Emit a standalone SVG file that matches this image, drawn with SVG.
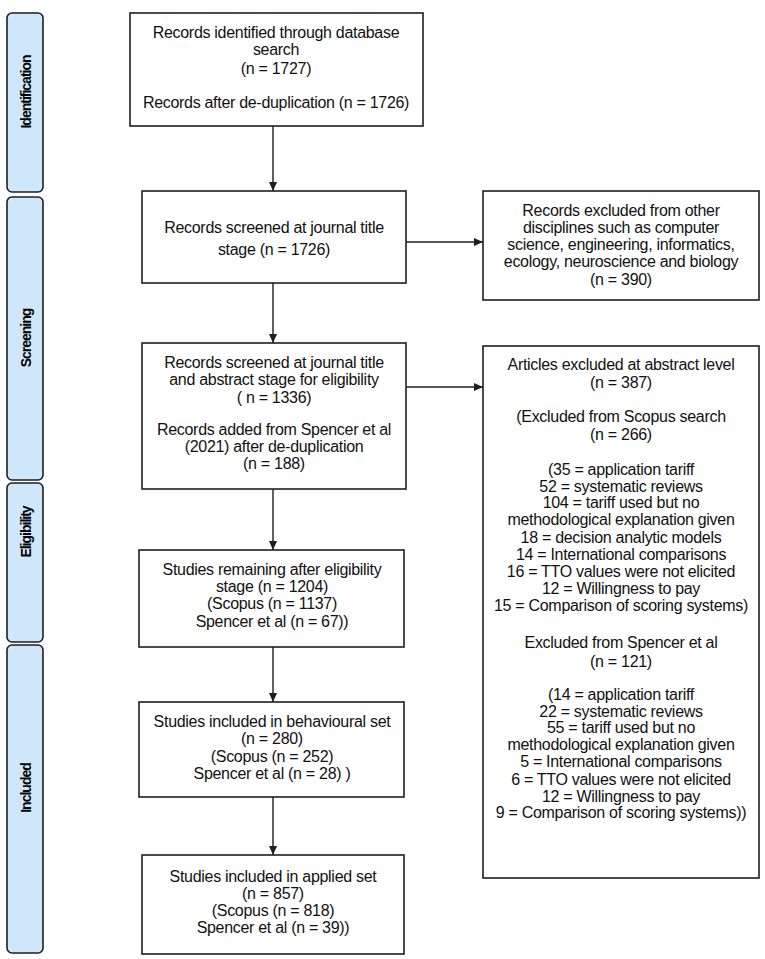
<svg xmlns="http://www.w3.org/2000/svg" width="765" height="959" viewBox="0 0 765 959">
<defs>
<style>
.bar{fill:#cfe7fa;stroke:#1e1e1e;stroke-width:1.6}
.box{fill:#ffffff;stroke:#1e1e1e;stroke-width:1.6}
.lbl{font-family:"Liberation Sans",Arial,sans-serif;font-weight:bold;font-size:14px;letter-spacing:-1px;fill:#000;text-anchor:middle;dominant-baseline:central}
.t{font-family:"Liberation Sans",Arial,sans-serif;font-size:16px;fill:#111;text-anchor:middle;letter-spacing:-0.3px}
.con{stroke:#1e1e1e;stroke-width:1.4;fill:none}
</style>
<marker id="ah" markerWidth="10" markerHeight="8" refX="9" refY="4" orient="auto" markerUnits="userSpaceOnUse">
<path d="M0,0 L9,4 L0,8 Z" fill="#1e1e1e"/>
</marker>
</defs>
<rect width="765" height="959" fill="#ffffff"/>

<g id="phase-identification">
<rect class="bar" x="7" y="13" width="36" height="179" rx="5"/>
<text class="lbl" transform="translate(25.5,92) rotate(-90)">Identification</text>
</g>
<g id="phase-screening">
<rect class="bar" x="7" y="197" width="36" height="283" rx="5"/>
<text class="lbl" transform="translate(25.5,338) rotate(-90)">Screening</text>
</g>
<g id="phase-eligibility">
<rect class="bar" x="7" y="483" width="36" height="159" rx="5"/>
<text class="lbl" transform="translate(25.5,532) rotate(-90)">Eligibility</text>
</g>
<g id="phase-included">
<rect class="bar" x="7" y="645" width="36" height="308" rx="5"/>
<text class="lbl" transform="translate(25.5,788) rotate(-90)">Included</text>
</g>

<g id="connectors">
<line class="con" x1="273" y1="126" x2="273" y2="191" marker-end="url(#ah)"/>
<line class="con" x1="273" y1="283" x2="273" y2="343" marker-end="url(#ah)"/>
<line class="con" x1="273" y1="489" x2="273" y2="550" marker-end="url(#ah)"/>
<line class="con" x1="273" y1="647" x2="273" y2="702" marker-end="url(#ah)"/>
<line class="con" x1="273" y1="797" x2="273" y2="855" marker-end="url(#ah)"/>
<line class="con" x1="406" y1="242" x2="483" y2="242" marker-end="url(#ah)"/>
<line class="con" x1="406" y1="387" x2="483" y2="387" marker-end="url(#ah)"/>
</g>

<g id="n1">
<rect class="box" x="130" y="13" width="293" height="113"/>
<text class="t" x="276" y="38">Records identified through database</text>
<text class="t" x="276" y="55">search</text>
<text class="t" x="276" y="74">(n = 1727)</text>
<text class="t" x="276" y="108">Records after de-duplication (n = 1726)</text>
</g>

<g id="n2">
<rect class="box" x="142" y="191" width="264" height="92"/>
<text class="t" x="274" y="233">Records screened at journal title</text>
<text class="t" x="274" y="255">stage (n = 1726)</text>
</g>

<g id="n3">
<rect class="box" x="483" y="191" width="276" height="109"/>
<text class="t" x="621" y="216">Records excluded from other</text>
<text class="t" x="621" y="233">disciplines  such as computer</text>
<text class="t" x="621" y="250">science, engineering, informatics,</text>
<text class="t" x="621" y="267">ecology, neuroscience and biology</text>
<text class="t" x="621" y="285">(n = 390)</text>
</g>

<g id="n4">
<rect class="box" x="142" y="343" width="264" height="146"/>
<text class="t" x="274" y="368">Records screened at journal title</text>
<text class="t" x="274" y="385">and abstract stage for eligibility</text>
<text class="t" x="274" y="403">( n = 1336)</text>
<text class="t" x="274" y="435">Records added from Spencer et al</text>
<text class="t" x="274" y="452">(2021) after de-duplication</text>
<text class="t" x="274" y="469">(n = 188)</text>
</g>

<g id="n5">
<rect class="box" x="483" y="346" width="276" height="532"/>
<text class="t" x="621" y="370">Articles excluded at abstract level</text>
<text class="t" x="621" y="388">(n = 387)</text>
<text class="t" x="621" y="422">(Excluded from Scopus search</text>
<text class="t" x="621" y="440">(n  = 266)</text>
<text class="t" x="621" y="475">(35 = application tariff</text>
<text class="t" x="621" y="492">52 = systematic reviews</text>
<text class="t" x="621" y="508">104 = tariff  used but no</text>
<text class="t" x="621" y="525">methodological explanation given</text>
<text class="t" x="621" y="543">18 = decision analytic models</text>
<text class="t" x="621" y="560">14 = International comparisons</text>
<text class="t" x="621" y="577">16 = TTO values were not elicited</text>
<text class="t" x="621" y="594">12 = Willingness to pay</text>
<text class="t" x="621" y="611">15 = Comparison of scoring systems)</text>
<text class="t" x="621" y="648">Excluded from Spencer et al</text>
<text class="t" x="621" y="667">(n = 121)</text>
<text class="t" x="621" y="700">(14 = application tariff</text>
<text class="t" x="621" y="717">22 = systematic reviews</text>
<text class="t" x="621" y="733">55 = tariff  used but no</text>
<text class="t" x="621" y="750">methodological explanation given</text>
<text class="t" x="621" y="767">5 = International comparisons</text>
<text class="t" x="621" y="785">6 = TTO values were not elicited</text>
<text class="t" x="621" y="802">12 = Willingness to pay</text>
<text class="t" x="621" y="818">9 = Comparison of scoring systems))</text>
</g>

<g id="n6">
<rect class="box" x="139" y="550" width="265" height="97"/>
<text class="t" x="272" y="575">Studies remaining after eligibility</text>
<text class="t" x="272" y="592">stage (n = 1204)</text>
<text class="t" x="272" y="609">(Scopus (n = 1137)</text>
<text class="t" x="272" y="627">Spencer et al (n = 67))</text>
</g>

<g id="n7">
<rect class="box" x="139" y="702" width="265" height="95"/>
<text class="t" x="272" y="727">Studies included in behavioural set</text>
<text class="t" x="272" y="744">(n = 280)</text>
<text class="t" x="272" y="762">(Scopus (n = 252)</text>
<text class="t" x="272" y="779">Spencer et al (n = 28) )</text>
</g>

<g id="n8">
<rect class="box" x="142" y="855" width="262" height="99"/>
<text class="t" x="273" y="882">Studies included in applied set</text>
<text class="t" x="273" y="899">(n = 857)</text>
<text class="t" x="273" y="916">(Scopus (n = 818)</text>
<text class="t" x="273" y="933">Spencer et al (n = 39))</text>
</g>
</svg>
